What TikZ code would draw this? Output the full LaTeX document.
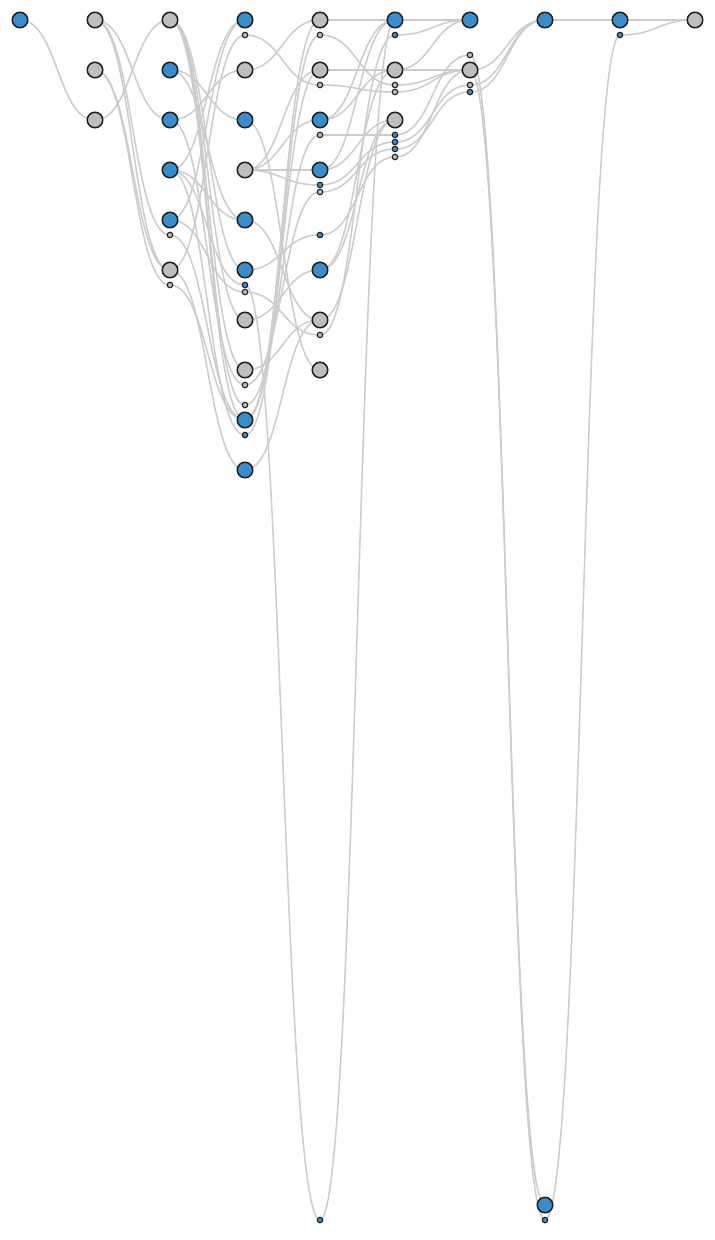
\documentclass[tikz,border=0pt]{standalone}
\usetikzlibrary{backgrounds}
\definecolor{nblue}{HTML}{3A8DC8}
\definecolor{ngray}{HTML}{BEBEBE}
\definecolor{nstroke}{HTML}{1E1E1E}
\definecolor{edgec}{HTML}{CCCCCC}
\tikzset{
  big/.style={circle, draw=nstroke, line width=1.5pt, minimum size=15.5pt, inner sep=0pt},
  sml/.style={circle, draw=nstroke, line width=1.1pt, minimum size=5.5pt, inner sep=0pt},
  B/.style={fill=nblue}, G/.style={fill=ngray},
  edge/.style={draw=edgec, line width=1.5pt}
}
\begin{document}
\begin{tikzpicture}[x=1pt,y=-1pt]
\useasboundingbox (0,0) rectangle (715,1240);
% col 0
\node[big,B] (a0) at (20,20) {};
% col 1
\node[big,G] (b0) at (95,20) {};
\node[big,G] (b1) at (95,70) {};
\node[big,G] (b2) at (95,120) {};
% col 2
\node[big,G] (c0) at (170,20) {};
\node[big,B] (c1) at (170,70) {};
\node[big,B] (c2) at (170,120) {};
\node[big,B] (c3) at (170,170) {};
\node[big,B] (c4) at (170,220) {};
\node[sml,G] (c4s) at (170,235) {};
\node[big,G] (c5) at (170,270) {};
\node[sml,G] (c5s) at (170,285) {};
% col 3
\node[big,B] (d0) at (245,20) {};
\node[sml,G] (d0s) at (245,35) {};
\node[big,G] (d1) at (245,70) {};
\node[big,B] (d2) at (245,120) {};
\node[big,G] (d3) at (245,170) {};
\node[big,B] (d4) at (245,220) {};
\node[big,B] (d5) at (245,270) {};
\node[sml,B] (d5s) at (245,285) {};
\node[sml,G] (d5t) at (245,292) {};
\node[big,G] (d6) at (245,320) {};
\node[big,G] (d7) at (245,370) {};
\node[sml,G] (d7s) at (245,385) {};
\node[sml,G] (d8s) at (245,405) {};
\node[big,B] (d8) at (245,420) {};
\node[sml,B] (d8t) at (245,435) {};
\node[big,B] (d9) at (245,470) {};
% col 4
\node[big,G] (e0) at (320,20) {};
\node[sml,G] (e0s) at (320,35) {};
\node[big,G] (e1) at (320,70) {};
\node[sml,G] (e1s) at (320,85) {};
\node[big,B] (e2) at (320,120) {};
\node[sml,G] (e2s) at (320,135) {};
\node[big,B] (e3) at (320,170) {};
\node[sml,B] (e3s) at (320,185) {};
\node[sml,G] (e3t) at (320,192) {};
\node[sml,B] (e4s) at (320,235) {};
\node[big,B] (e5) at (320,270) {};
\node[big,G] (e6) at (320,320) {};
\node[sml,G] (e6s) at (320,335) {};
\node[big,G] (e7) at (320,370) {};
\node[sml,B] (eb) at (320,1220) {};
% col 5
\node[big,B] (f0) at (395,20) {};
\node[sml,B] (f0s) at (395,35) {};
\node[big,G] (f1) at (395,70) {};
\node[sml,G] (f1s) at (395,85) {};
\node[sml,G] (f1t) at (395,92) {};
\node[big,G] (f2) at (395,120) {};
\node[sml,B] (f2a) at (395,135) {};
\node[sml,B] (f2b) at (395,142) {};
\node[sml,B] (f2c) at (395,149) {};
\node[sml,G] (f2d) at (395,157) {};
% col 6
\node[big,B] (g0) at (470,20) {};
\node[sml,G] (g1s) at (470,55) {};
\node[big,G] (g1) at (470,70) {};
\node[sml,G] (g1a) at (470,85) {};
\node[sml,B] (g1b) at (470,92) {};
% col 7
\node[big,B] (h0) at (545,20) {};
\node[big,B] (hb) at (545,1205) {};
\node[sml,B] (hbs) at (545,1220) {};
% col 8
\node[big,B] (i0) at (620,20) {};
\node[sml,B] (i0s) at (620,35) {};
% col 9
\node[big,G] (j0) at (695,20) {};

\begin{scope}[on background layer]
\fill[white] (0,0) rectangle (715,1240);
\foreach \s/\t in {a0/b2, b2/c0, b0/c2, b0/c4s, b0/c5, b1/c5, b1/c5s,
  c0/d5, c0/d6, c0/d7, c0/d8, c0/d8s, c1/d2, c1/d4, c2/d1, c2/d7s,
  c3/d0, c3/d4, c3/d5s, c3/d8t, c4/d0, c4/d5t, c4s/d8, c5/d0s, c5/d9, c5s/d8,
  d1/e0, d0s/e1s, d2/e7, d3/e1, d3/e2, d3/e3, d3/e3s, d4/e6, d5/e4s, d5s/eb,
  d5t/e6s, d6/e5, d7/e6, d7s/e3t, d8s/e2s, d8/e0, d8/e1, d8t/e0s, d9/e6,
  e0/f0, e0s/f1s, e1/f1, e1s/f1t, e2/f0, e2/f1, e2s/f2a, e3/f0, e3/f2, e3s/f2b,
  e3t/f2c, e4s/f2d, e5/f1, e5/f2, e6/f2, e6s/f0s, eb/f0,
  f0/g0, f0s/g0, f1/g0, f1/g1, f1s/g1, f1t/g1, f2a/g1s, f2b/g1a, f2c/g1b, f2d/g1,
  g1/h0, g1a/h0, g1b/h0, g1/hb, g1s/hbs,
  h0/i0, hbs/i0s, i0/j0, i0s/j0}
  \draw[edge] (\s.center) .. controls +(37.5,0) and +(-37.5,0) .. (\t.center);
\end{scope}
\end{tikzpicture}
\end{document}
